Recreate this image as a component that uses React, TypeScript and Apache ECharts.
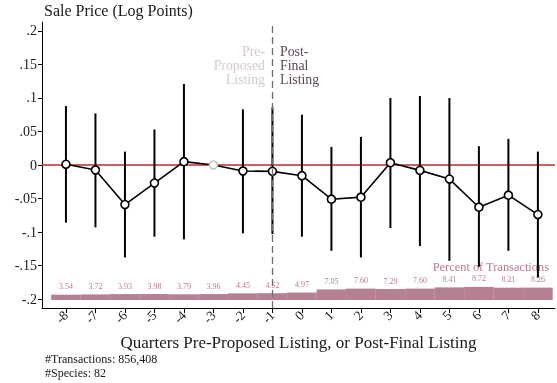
import React, { useEffect, useRef } from "react";
import * as echarts from "echarts";

// Event-study quarters relative to listing
const quarters = [-8, -7, -6, -5, -4, -3, -2, -1, 0, 1, 2, 3, 4, 5, 6, 7, 8];
// Point estimates (log points); -3 is the omitted reference quarter
const coef = [0.001, -0.0075, -0.059, -0.027, 0.005, 0, -0.009, -0.0095, -0.016, -0.051, -0.048, 0.0035, -0.008, -0.021, -0.063, -0.045, -0.074];
// Confidence interval bounds
const ciLow = [-0.086, -0.093, -0.138, -0.107, -0.111, null, -0.102, -0.103, -0.107, -0.128, -0.138, -0.094, -0.121, -0.143, -0.152, -0.128, -0.168];
const ciHigh = [0.088, 0.077, 0.02, 0.053, 0.121, null, 0.083, 0.086, 0.075, 0.027, 0.042, 0.1, 0.103, 0.1, 0.028, 0.039, 0.02];
// Share of transactions in each quarter (%)
const pctTransactions = [3.54, 3.72, 3.93, 3.98, 3.79, 3.96, 4.45, 4.52, 4.97, 7.05, 7.6, 7.29, 7.6, 8.41, 8.72, 8.21, 8.26];
// Y tick values
const yTicks = [-0.2, -0.15, -0.1, -0.05, 0, 0.05, 0.1, 0.15, 0.2];

// Axis extents
const X_MIN = -8.812;
const X_MAX = 8.58;
const Y_MIN = -0.2134;
const Y_MAX = 0.2134;

const FONT = "'Liberation Serif', 'DejaVu Serif', serif";
const MAUVE = "#b5808f";
const MAUVE_TEXT = "#b87a91";
const INK = "#1a1a1a";

const fmtY = (v: number) => {
  if (Math.abs(v) < 1e-9) return "0";
  const s = String(Math.round(Math.abs(v) * 100) / 100).replace(/^0/, "");
  return (v < 0 ? "-" : "") + s;
};

export default function App() {
  const ref = useRef<HTMLDivElement>(null);

  useEffect(() => {
    if (!ref.current) return;
    const chart = echarts.init(ref.current, null, { renderer: "svg" });

    const errData = quarters
      .map((q, i) => [q, ciLow[i], ciHigh[i]])
      .filter((d) => d[1] !== null && d[2] !== null);

    const pointData = quarters.map((q, i) => {
      const item: any = { value: [q, coef[i]] };
      if (q === -3) item.itemStyle = { borderColor: "#c4c4c4", color: "#fff" };
      return item;
    });

    chart.setOption({
      animation: false,
      textStyle: { fontFamily: FONT },
      grid: { left: 42, right: 2, top: 22, bottom: 75, containLabel: false },
      xAxis: {
        type: "value",
        min: X_MIN,
        max: X_MAX,
        name: "Quarters Pre-Proposed Listing, or Post-Final Listing",
        nameLocation: "middle",
        nameGap: 26,
        nameTextStyle: { fontFamily: FONT, fontSize: 17, color: INK },
        axisLine: { show: true, onZero: false, lineStyle: { color: "#000", width: 1 } },
        axisTick: { show: true, length: 5, customValues: quarters, lineStyle: { color: "#000" } },
        axisLabel: {
          customValues: quarters,
          rotate: 45,
          fontFamily: FONT,
          fontSize: 13.5,
          color: INK,
          margin: 5,
          formatter: (v: number) => String(v),
        },
        splitLine: { show: false },
      },
      yAxis: [
        {
          type: "value",
          min: Y_MIN,
          max: Y_MAX,
          axisLine: { show: true, onZero: false, lineStyle: { color: "#000", width: 1 } },
          axisTick: { show: true, length: 4, customValues: yTicks, lineStyle: { color: "#000" } },
          axisLabel: {
            customValues: yTicks,
            fontFamily: FONT,
            fontSize: 14,
            color: INK,
            margin: 5,
            formatter: fmtY,
          },
          splitLine: { show: false },
        },
        {
          type: "value",
          min: -5.333,
          max: 185.333,
          show: false,
          splitLine: { show: false },
        },
      ],
      series: [
        {
          type: "bar",
          xAxisIndex: 0,
          yAxisIndex: 1,
          data: quarters.map((q, i) => [q, pctTransactions[i]]),
          barWidth: 29.6,
          itemStyle: { color: MAUVE },
          label: {
            show: true,
            position: "top",
            distance: 4,
            fontFamily: FONT,
            fontSize: 8,
            color: MAUVE_TEXT,
            formatter: (p: any) => p.value[1].toFixed(2),
          },
          z: 1,
        },
        {
          // zero reference line across the plot
          type: "line",
          data: [
            [X_MIN, 0],
            [X_MAX, 0],
          ],
          symbol: "none",
          silent: true,
          lineStyle: { color: "#c22a2a", width: 1.3 },
          z: 2,
          markLine: {
            silent: true,
            symbol: ["none", "none"],
            label: { show: false },
            data: [{ xAxis: -1, lineStyle: { color: "#6e6e6e", width: 1.3, type: [7, 4], opacity: 1 } }],
          },
        },
        {
          type: "custom",
          data: errData,
          z: 3,
          renderItem: (params: any, api: any) => {
            const x = api.value(0);
            const lo = api.coord([x, api.value(1)]);
            const hi = api.coord([x, api.value(2)]);
            return {
              type: "line",
              shape: { x1: lo[0], y1: lo[1], x2: hi[0], y2: hi[1] },
              style: { stroke: "#000", lineWidth: 2 },
            };
          },
        },
        {
          type: "line",
          data: pointData,
          symbol: "circle",
          symbolSize: 8,
          showAllSymbol: true,
          lineStyle: { color: "#000", width: 1.6 },
          itemStyle: { color: "#fff", borderColor: "#000", borderWidth: 1.6 },
          z: 4,
        },
      ],
      graphic: [
        {
          type: "text",
          x: 44,
          y: 10,
          style: {
            text: "Sale Price (Log Points)",
            font: `16px ${FONT}`,
            fill: INK,
            textVerticalAlign: "middle",
          },
        },
        {
          type: "text",
          x: 265,
          y: 44.5,
          style: {
            text: "Pre-\nProposed\nListing",
            font: `13.8px ${FONT}`,
            fill: "#d6cad2",
            textAlign: "right",
            lineHeight: 14,
          },
        },
        {
          type: "text",
          x: 280,
          y: 44.5,
          style: {
            text: "Post-\nFinal\nListing",
            font: `13.8px ${FONT}`,
            fill: "#5b4858",
            textAlign: "left",
            lineHeight: 14,
          },
        },
        {
          type: "text",
          x: 549,
          y: 267,
          style: {
            text: "Percent of Transactions",
            font: `12.4px ${FONT}`,
            fill: MAUVE_TEXT,
            textAlign: "right",
            textVerticalAlign: "middle",
          },
        },
        {
          type: "text",
          x: 45,
          y: 352,
          style: {
            text: "#Transactions: 856,408\n#Species: 82",
            font: `12px ${FONT}`,
            fill: INK,
            lineHeight: 14,
          },
        },
      ],
    });

    return () => chart.dispose();
  }, []);

  return (
    <div
      ref={ref}
      style={{ position: "fixed", left: 0, top: 0, width: 557, height: 383 }}
    />
  );
}
